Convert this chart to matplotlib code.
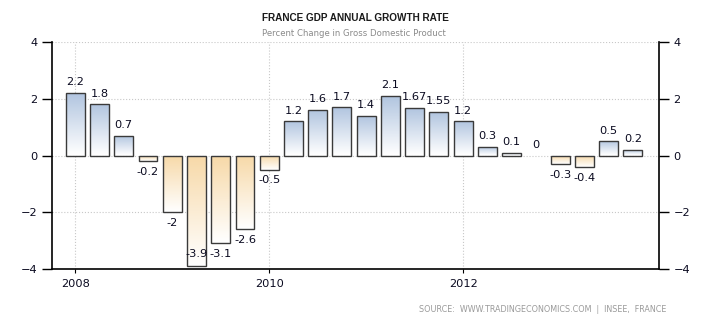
import numpy as np
import matplotlib
matplotlib.use('Agg')
import matplotlib.pyplot as plt
from matplotlib.colors import LinearSegmentedColormap

# quarterly GDP growth, 2008 Q1 .. 2013 Q4
quarters = np.arange(2008, 2014, 0.25)
growth = [2.2, 1.8, 0.7, -0.2, -2, -3.9, -3.1, -2.6, -0.5, 1.2, 1.6, 1.7,
          1.4, 2.1, 1.67, 1.55, 1.2, 0.3, 0.1, 0, -0.3, -0.4, 0.5, 0.2]
labels = ['2.2', '1.8', '0.7', '-0.2', '-2', '-3.9', '-3.1', '-2.6', '-0.5', '1.2', '1.6', '1.7',
          '1.4', '2.1', '1.67', '1.55', '1.2', '0.3', '0.1', '0', '-0.3', '-0.4', '0.5', '0.2']
year_ticks = [2008, 2010, 2012]
y_ticks = [-4, -2, 0, 2, 4]

plt.rcParams['font.family'] = 'DejaVu Sans'
fig = plt.figure(figsize=(7.1, 3.25), dpi=100)
ax = fig.add_axes([52/710, 1-269/325, (659-52)/710, (269-42)/325])

blue = LinearSegmentedColormap.from_list('b', ['#ffffff', '#b0c4df'])
orange = LinearSegmentedColormap.from_list('o', ['#ffffff', '#f7d9a8'])
grad = np.linspace(0, 1, 100).reshape(-1, 1)

bars = ax.bar(quarters, growth, width=0.195, facecolor='none', edgecolor='#3a3a3a',
              linewidth=[0 if v == 0 else 1.0 for v in growth], zorder=3)
for b, v in zip(bars, growth):
    if v == 0:
        continue
    x0 = b.get_x()
    x1 = x0 + b.get_width()
    if v > 0:
        im = ax.imshow(grad, cmap=blue, aspect='auto', origin='lower',
                       extent=[x0, x1, 0, v], zorder=2)
    else:
        im = ax.imshow(grad, cmap=orange, aspect='auto', origin='lower',
                       extent=[x0, x1, v, 0], zorder=2)
    im.set_clip_path(b)

for x, v, t in zip(quarters, growth, labels):
    if v >= 0:
        ax.text(x, v + 0.2, t, ha='center', va='bottom', fontsize=8.2, color='#0a0a20')
    else:
        ax.text(x, max(v - 0.2, -3.3), t, ha='center', va='top', fontsize=8.2, color='#0a0a20')

ax.set_xlim(2007.76, 2014.02)
ax.set_ylim(-4, 4)
ax.set_yticks(y_ticks)
ax.set_xticks(year_ticks)
ax.set_xticklabels([str(y) for y in year_ticks], fontsize=8.2, color='#0a0a20')
ax.tick_params(axis='y', labelsize=8.2, labelcolor='#0a0a20', length=7, width=1, direction='out',
               left=True, right=True, labelleft=True, labelright=True)
ax.tick_params(axis='x', length=3, direction='out', pad=4)
ax.grid(True, linestyle=':', color='#c8c8c8', linewidth=0.8, zorder=0)
ax.set_axisbelow(True)
for s in ['left', 'right', 'bottom']:
    ax.spines[s].set_color('black')
    ax.spines[s].set_linewidth(1.2)
ax.spines['top'].set_visible(False)

fig.text(355/710, 1-18/325, 'FRANCE GDP ANNUAL GROWTH RATE', ha='center', va='center',
         fontsize=7.2, fontweight='bold', family='Liberation Sans', color='#1a1a1a')
fig.text(354/710, 1-34/325, 'Percent Change in Gross Domestic Product', ha='center', va='center',
         fontsize=6.1, color='#8a8a8a')
fig.text(666/710, 1-310/325, 'SOURCE:  WWW.TRADINGECONOMICS.COM  |  INSEE,  FRANCE', ha='right', va='center',
         fontsize=5.8, color='#9a9a9a')

fig.savefig('out.png', dpi=100)
